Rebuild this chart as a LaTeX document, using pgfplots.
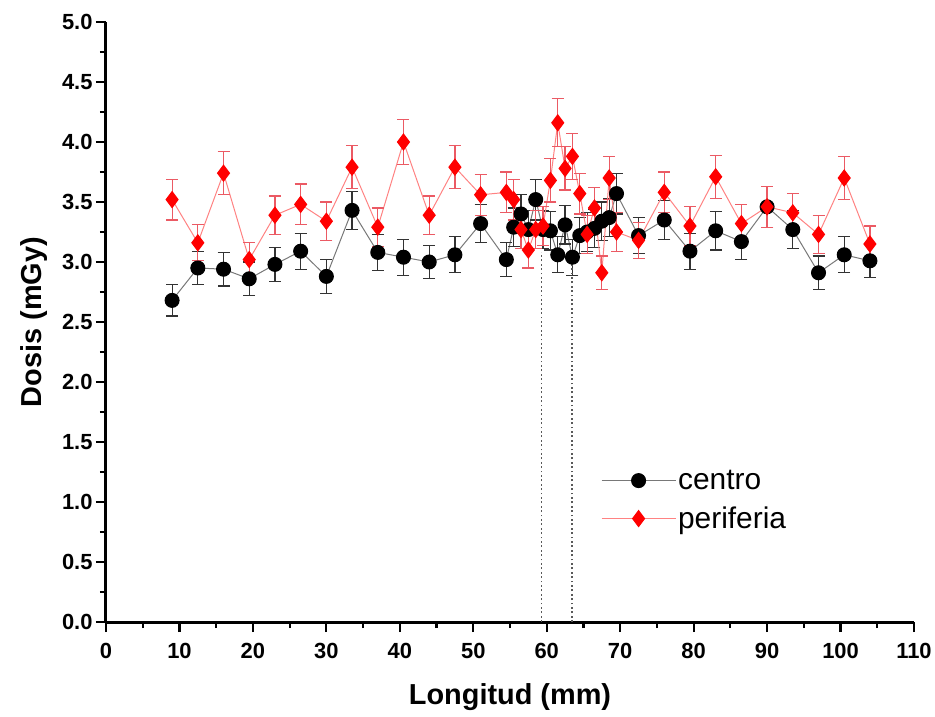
\documentclass[border=0pt]{standalone}
\usepackage{pgfplots}
\usepackage{pgfplotstable}
\pgfplotsset{compat=1.18}
\usepackage{fontspec}
\setmainfont{Liberation Sans}
\definecolor{ptred}{RGB}{255,0,0}
\definecolor{linered}{RGB}{255,130,130}
\definecolor{errred}{RGB}{235,90,100}
\definecolor{linegray}{RGB}{120,120,120}

% x  y  err
\pgfplotstableread{
x y e
9.0 2.68 0.13
12.5 2.95 0.14
16.0 2.94 0.14
19.5 2.86 0.14
23.0 2.98 0.14
26.5 3.09 0.15
30.0 2.88 0.14
33.5 3.43 0.16
37.0 3.08 0.15
40.5 3.04 0.15
44.0 3.00 0.14
47.5 3.06 0.15
51.0 3.32 0.16
54.5 3.02 0.14
55.5 3.29 0.16
56.5 3.40 0.16
57.5 3.27 0.16
58.5 3.52 0.17
59.5 3.27 0.16
60.5 3.26 0.16
61.5 3.06 0.15
62.5 3.31 0.16
63.5 3.04 0.15
64.5 3.22 0.15
65.5 3.25 0.16
66.5 3.28 0.16
67.5 3.34 0.16
68.5 3.37 0.16
69.5 3.57 0.17
72.5 3.22 0.15
76.0 3.35 0.16
79.5 3.09 0.15
83.0 3.26 0.16
86.5 3.17 0.15
90.0 3.46 0.17
93.5 3.27 0.16
97.0 2.91 0.14
100.5 3.06 0.15
104.0 3.01 0.14
}\centro

\pgfplotstableread{
x y e
9.0 3.52 0.17
12.5 3.16 0.15
16.0 3.74 0.18
19.5 3.02 0.14
23.0 3.39 0.16
26.5 3.48 0.17
30.0 3.34 0.16
33.5 3.79 0.18
37.0 3.29 0.16
40.5 4.00 0.19
44.0 3.39 0.16
47.5 3.79 0.18
51.0 3.56 0.17
54.5 3.58 0.17
55.5 3.52 0.17
56.5 3.27 0.16
57.5 3.10 0.15
58.5 3.27 0.16
59.5 3.30 0.16
60.5 3.68 0.18
61.5 4.16 0.20
62.5 3.78 0.18
63.5 3.88 0.19
64.5 3.57 0.17
65.5 3.23 0.16
66.5 3.45 0.17
67.5 2.91 0.14
68.5 3.70 0.18
69.5 3.25 0.16
72.5 3.18 0.15
76.0 3.58 0.17
79.5 3.30 0.16
83.0 3.71 0.18
86.5 3.32 0.16
90.0 3.46 0.17
93.5 3.41 0.16
97.0 3.23 0.16
100.5 3.70 0.18
104.0 3.15 0.15
}\periferia

\begin{document}
\begin{tikzpicture}
\begin{axis}[
    name=main,
    scale only axis,
    width=808bp, height=600bp,
    xmin=0, xmax=110, ymin=0, ymax=5,
    axis x line=bottom, axis y line=left,
    x axis line style={-, line width=3bp, black},
    y axis line style={-, line width=3bp, black},
    tick align=outside,
    major tick length=10bp, minor tick length=6bp,
    tick style={black, line width=2.2bp},
    xtick distance=10, minor x tick num=1,
    ytick distance=0.5, minor y tick num=1,
    /pgf/number format/assume math mode=true,
    ticklabel style={font=\fontsize{22}{22}\selectfont\bfseries},
    xticklabel style={yshift=-8bp},
    yticklabel style={/pgf/number format/fixed,
        /pgf/number format/fixed zerofill, /pgf/number format/precision=1},
    xlabel={Longitud (mm)}, ylabel={Dosis (mGy)},
    label style={font=\fontsize{29}{29}\selectfont\bfseries},
    xlabel style={yshift=-18bp},
    ylabel style={yshift=8bp},
    legend style={draw=none, fill=none, at={(0.61,0.26)}, anchor=north west,
        font=\fontsize{30}{30}\selectfont, row sep=12bp, inner sep=2bp},
    legend cell align=left,
    legend image code/.code={
        \draw[mark repeat=2, mark phase=2]
        plot coordinates {(0bp,0bp) (37bp,0bp) (74bp,0bp)};
    },
]
\addplot[linegray, line width=1bp, mark=*, mark size=7bp,
    mark options={draw=black, fill=black, solid},
    error bars/.cd, y dir=both, y explicit,
    error bar style={black!80, line width=1.2bp},
    error mark options={rotate=90, mark size=6bp, line width=1.2bp, black!80}]
    table[x=x, y=y, y error=e] {\centro};
\addlegendentry{centro}
\addplot[linered, line width=1bp, mark=diamond*, mark size=8bp,
    mark options={draw=ptred, fill=ptred, solid},
    error bars/.cd, y dir=both, y explicit,
    error bar style={errred, line width=1.2bp},
    error mark options={rotate=90, mark size=6bp, line width=1.2bp, errred}]
    table[x=x, y=y, y error=e] {\periferia};
\addlegendentry{periferia}
\addplot[black!65, line width=1.8bp, dash pattern=on 1.8bp off 2.6bp, forget plot] coordinates {(59.3,0) (59.3,3.08)};
\addplot[black!65, line width=1.8bp, dash pattern=on 1.8bp off 2.6bp, forget plot] coordinates {(63.4,0) (63.4,3.05)};
\end{axis}
% page margins round the axis box, as in the reference
\path ([xshift=-106bp, yshift=22bp]main.north west) rectangle ([xshift=21bp, yshift=-95bp]main.south east);
\end{tikzpicture}
\end{document}
